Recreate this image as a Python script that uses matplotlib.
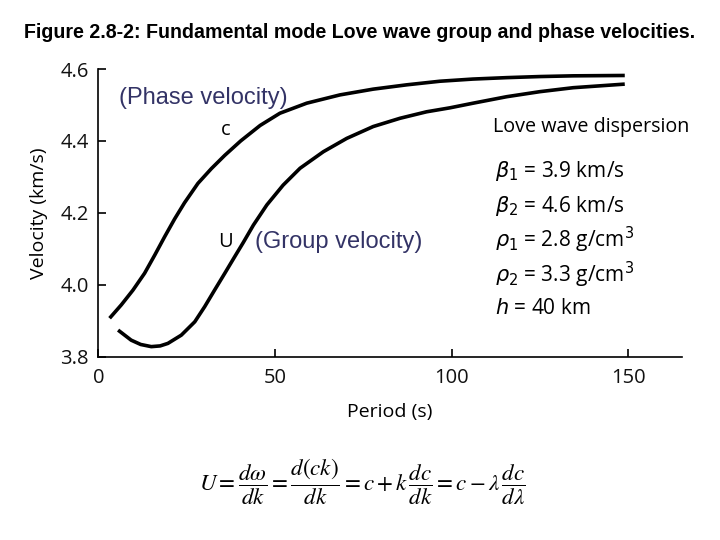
import matplotlib
matplotlib.use("Agg")
import matplotlib.pyplot as plt

# Phase velocity c (km/s) vs period (s)
period_c = [3.2, 6.5, 9.8, 13.1, 16.0, 18.8, 21.6, 24.4, 28.2, 32.0, 35.8, 40.3,
            45.8, 51.4, 59.0, 68.4, 77.8, 87.3, 96.7, 106.0, 115.6, 125.0, 134.4, 149.0]
vel_c = [3.907, 3.944, 3.985, 4.032, 4.083, 4.134, 4.183, 4.228, 4.282, 4.323, 4.360,
         4.400, 4.443, 4.477, 4.505, 4.528, 4.544, 4.556, 4.566, 4.572, 4.576, 4.579,
         4.581, 4.582]

# Group velocity U (km/s) vs period (s)
period_u = [5.6, 9.3, 12.0, 15.0, 17.5, 19.7, 23.5, 27.3, 30.1, 32.9, 35.8, 38.6, 41.0,
            43.9, 47.7, 52.3, 57.1, 63.7, 70.3, 77.8, 85.4, 92.9, 99.5, 106.1, 115.6,
            125.0, 134.4, 149.0]
vel_u = [3.874, 3.846, 3.834, 3.828, 3.830, 3.837, 3.860, 3.897, 3.939, 3.985, 4.032,
         4.078, 4.117, 4.166, 4.222, 4.277, 4.324, 4.370, 4.407, 4.440, 4.463, 4.481,
         4.492, 4.505, 4.523, 4.537, 4.548, 4.558]

x_ticks = [0, 50, 100, 150]
y_ticks = [3.8, 4.0, 4.2, 4.4, 4.6]

params = [r"$\beta_1$ = 3.9 km/s", r"$\beta_2$ = 4.6 km/s",
          r"$\rho_1$ = 2.8 g/cm$^3$", r"$\rho_2$ = 3.3 g/cm$^3$", r"$h$ = 40 km"]

sans = "Open Sans"
navy = "#333366"

fig = plt.figure(figsize=(7.2, 5.4), dpi=100)
ax = fig.add_axes([98.3 / 720, 1 - 356.7 / 540, (682 - 98.3) / 720, (356.7 - 69) / 540])

ax.plot(period_c, vel_c, color="black", lw=2.6, solid_capstyle="butt", solid_joinstyle="round")
ax.plot(period_u, vel_u, color="black", lw=2.6, solid_capstyle="butt", solid_joinstyle="round")

ax.set_xlim(0, 165.2)
ax.set_ylim(3.8, 4.6)
ax.set_xticks(x_ticks)
ax.set_xticklabels([str(v) for v in x_ticks])
ax.set_yticks(y_ticks)
ax.set_yticklabels([f"{v:.1f}" for v in y_ticks])
for s in ["top", "right"]:
    ax.spines[s].set_visible(False)
for s in ["left", "bottom"]:
    ax.spines[s].set_linewidth(1.2)
ax.tick_params(direction="in", length=6, width=1.2, labelsize=14.5)
ax.tick_params(axis="x", pad=8)
ax.tick_params(axis="y", pad=7)
for lab in ax.get_xticklabels() + ax.get_yticklabels():
    lab.set_fontfamily(sans)
    lab.set_color("#111111")

ax.set_xlabel("Period (s)", fontsize=14, family=sans, labelpad=11)
ax.set_ylabel("Velocity (km/s)", fontsize=14, family=sans, labelpad=9)


def fx(px):
    return px / 720


def fy(py):
    return 1 - py / 540


fig.text(fx(360), fy(33), "Figure 2.8-2: Fundamental mode Love wave group and phase velocities.",
         ha="center", va="center", fontsize=14.1, fontweight="bold", family="Liberation Sans")
fig.text(fx(119), fy(98), "(Phase velocity)", ha="left", va="center", fontsize=17,
         color=navy, family="Liberation Sans")
fig.text(fx(255), fy(242), "(Group velocity)", ha="left", va="center", fontsize=17,
         color=navy, family="Liberation Sans")
fig.text(fx(226), fy(130), "c", ha="center", va="center", fontsize=14.5, family=sans)
fig.text(fx(226), fy(242), "U", ha="center", va="center", fontsize=14.5, family=sans)
fig.text(fx(493), fy(127), "Love wave dispersion", ha="left", va="center", fontsize=14.2,
         family=sans)
for i, t in enumerate(params):
    fig.text(fx(495), fy(171 + i * 34.5), t, ha="left", va="center", fontsize=15,
             family=sans, math_fontfamily="dejavusans")

eq = (r"$U=\dfrac{d\omega}{dk}=\dfrac{d\left(ck\right)}{dk}=c+k\,\dfrac{dc}{dk}"
      r"=c-\lambda\,\dfrac{dc}{d\lambda}$")
fig.text(fx(362), fy(482), eq, ha="center", va="center", fontsize=16.6, math_fontfamily="stix")

fig.savefig("out.png", dpi=100)
